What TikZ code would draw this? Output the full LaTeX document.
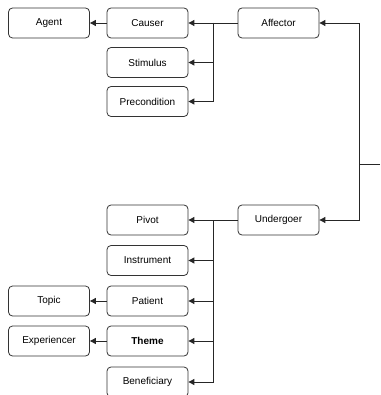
\documentclass[tikz,border=0pt]{standalone}
\usepackage{fontspec}
\setmainfont{Liberation Sans}
\usetikzlibrary{arrows.meta}

\begin{document}
\begin{tikzpicture}[x=1pt, y=-1pt]
        % Define styles for shapes
        \tikzstyle{rolebox} = [draw=black!80, line width=0.8pt, rounded corners=4pt, minimum width=81pt, minimum height=30pt, inner sep=0pt, font=\fontsize{10}{12}\selectfont]
        \tikzstyle{link} = [draw=black!85, line width=0.9pt, -{Triangle[length=6pt, width=6pt]}]
        \useasboundingbox (0,0) rectangle (380,395);

        % Affector tree
        \node[rolebox] (agent) at (49, 23) {Agent};
        \node[rolebox] (causer) at (147.5, 23) {Causer};
        \node[rolebox] (affector) at (278.5, 23) {Affector};
        \node[rolebox] (stimulus) at (147.5, 62.5) {Stimulus};
        \node[rolebox] (precond) at (147.5, 101.5) {Precondition};

        % Undergoer tree
        \node[rolebox] (pivot) at (147.5, 220) {Pivot};
        \node[rolebox] (undergoer) at (278.5, 220) {Undergoer};
        \node[rolebox] (instrument) at (147.5, 260.5) {Instrument};
        \node[rolebox] (topic) at (49, 301) {Topic};
        \node[rolebox] (patient) at (147.5, 301) {Patient};
        \node[rolebox] (experiencer) at (49, 341) {Experiencer};
        \node[rolebox] (theme) at (147.5, 341) {\textbf{Theme}};
        \node[rolebox] (beneficiary) at (147.5, 382) {Beneficiary};

        % trunk points
        \coordinate (forkA) at (213, 23);
        \coordinate (forkU) at (213, 220);
        \coordinate (inlet) at (380, 164);
        \coordinate (spine) at (359, 164);

        % Draw arrows
        \draw[link] (inlet) -- (spine) |- (affector.east);
        \draw[link] (spine) |- (undergoer.east);
        \draw[link] (affector.west) -- (causer.east);
        \draw[link] (forkA) |- (stimulus.east);
        \draw[link] (forkA) |- (precond.east);
        \draw[link] (causer.west) -- (agent.east);
        \draw[link] (undergoer.west) -- (pivot.east);
        \draw[link] (forkU) |- (instrument.east);
        \draw[link] (forkU) |- (patient.east);
        \draw[link] (forkU) |- (theme.east);
        \draw[link] (forkU) |- (beneficiary.east);
        \draw[link] (patient.west) -- (topic.east);
        \draw[link] (theme.west) -- (experiencer.east);
    \end{tikzpicture}
\end{document}
